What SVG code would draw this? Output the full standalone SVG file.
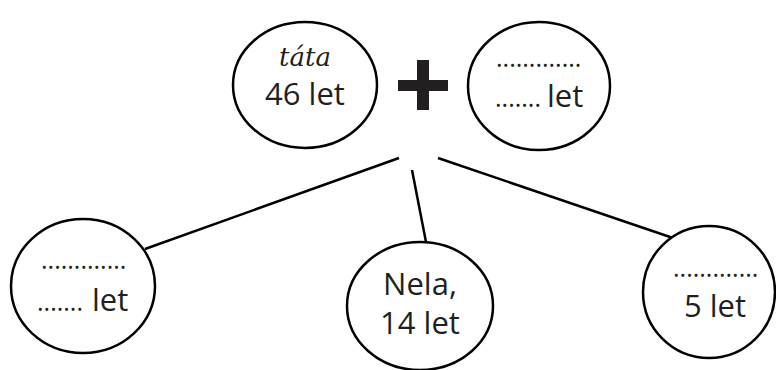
<svg xmlns="http://www.w3.org/2000/svg" width="776" height="370" viewBox="0 0 776 370">
<style>
.n{fill:#fff;stroke:#000;stroke-width:2.5}
.t{font-family:"Open Sans","Noto Sans",sans-serif;font-size:31px;fill:#231f20;text-anchor:middle}
.s{text-anchor:start}
.d{font-family:"Open Sans","Noto Sans",sans-serif;font-size:25px;fill:#231f20;text-anchor:start}
.i{font-family:"DejaVu Serif",serif;font-style:italic;font-size:26px;fill:#231f20;text-anchor:middle}
.c{stroke:#000;stroke-width:2.5;fill:none}
</style>
<rect width="776" height="370" fill="#fff"/>
<g id="connectors">
<line class="c" x1="145" y1="249" x2="399" y2="158"/>
<line class="c" x1="412" y1="170" x2="426" y2="242"/>
<line class="c" x1="438" y1="158" x2="673" y2="238"/>
</g>
<g id="tata">
<ellipse class="n" cx="305" cy="85" rx="72" ry="63"/>
<text class="i" x="305" y="66">táta</text>
<text class="t" x="305" y="105">46 let</text>
</g>
<g id="plus">
<rect x="398" y="80" width="50" height="11" fill="#231f20"/>
<rect x="417" y="60" width="12" height="50" fill="#231f20"/>
</g>
<g id="partner">
<ellipse class="n" cx="539" cy="86" rx="71" ry="64"/>
<text class="d" x="496" y="67">.............</text>
<text class="d" x="495" y="107">.......</text>
<text class="t s" x="547" y="107">let</text>
</g>
<g id="child1">
<ellipse class="n" cx="83" cy="286" rx="72" ry="67"/>
<text class="d" x="41" y="269">.............</text>
<text class="d" x="37" y="311">.......</text>
<text class="t s" x="92" y="311">let</text>
</g>
<g id="nela">
<ellipse class="n" cx="420" cy="306" rx="73" ry="64"/>
<text class="t" x="420" y="295">Nela,</text>
<text class="t" x="420" y="334">14 let</text>
</g>
<g id="child3">
<ellipse class="n" cx="709" cy="292" rx="66" ry="66"/>
<text class="d" x="673" y="277">.............</text>
<text class="t" x="715" y="317">5 let</text>
</g>
</svg>
